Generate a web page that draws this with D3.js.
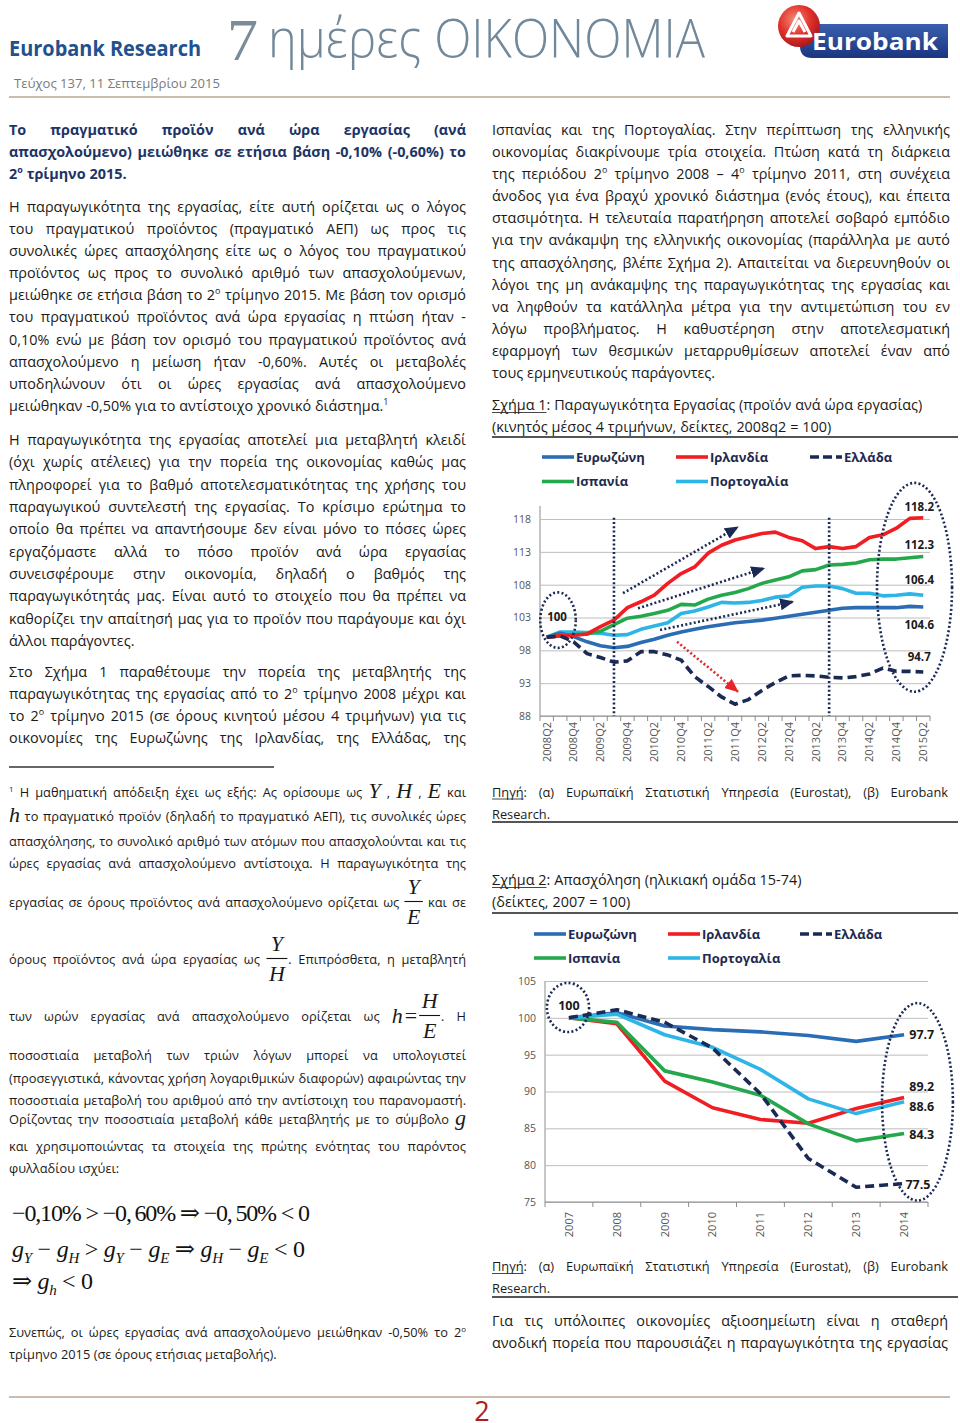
<!DOCTYPE html>
<html>
<head>
<meta charset="utf-8">
<script src="https://cdnjs.cloudflare.com/ajax/libs/d3/7.8.5/d3.min.js"></script>
<style>
body { margin: 0; background: #fff; }
svg { font-family: 'Open Sans', 'Noto Sans', sans-serif; }
</style>
</head>
<body>
<svg id="page" width="960" height="1423"></svg>
<script>
// ---------- data: Σχήμα 1 (productivity, 4q moving avg, 2008q2 = 100) ----------
var quarters = ["2008Q2","2008Q3","2008Q4","2009Q1","2009Q2","2009Q3","2009Q4","2010Q1","2010Q2","2010Q3",
  "2010Q4","2011Q1","2011Q2","2011Q3","2011Q4","2012Q1","2012Q2","2012Q3","2012Q4","2013Q1",
  "2013Q2","2013Q3","2013Q4","2014Q1","2014Q2","2014Q3","2014Q4","2015Q1","2015Q2"];
var prodEurozone = [100,100.6,100.1,99.3,98.7,98.4,98.6,99.2,99.7,100.3,100.8,101.2,101.6,101.9,102.2,102.4,102.6,102.9,103.2,103.5,103.8,104.1,104.4,104.5,104.5,104.5,104.5,104.7,104.6];
var prodIreland  = [100,100.2,100.3,100.5,101.6,102.6,104.5,105.4,106.4,108.2,109.7,110.7,112.8,114.0,114.8,115.3,115.8,116.0,115.2,114.7,113.5,113.8,113.5,113.8,115.2,115.6,116.6,118.1,118.2];
var prodGreece   = [100,100.2,99.3,97.5,96.9,96.2,96.4,97.8,97.8,97.3,96.5,94.0,92.5,90.9,89.8,90.5,91.9,93.1,94.1,94.2,94.1,93.9,93.8,94.0,94.4,95.3,94.8,94.8,94.7];
var prodSpain    = [100,100.3,100.4,100.5,100.9,101.9,102.9,103.2,103.6,104.1,105.0,104.9,105.8,106.4,106.8,107.4,108.2,108.7,109.2,110.1,110.3,111.0,111.1,111.3,111.8,111.9,111.9,112.1,112.3];
var prodPortugal = [100,100.8,100.8,100.7,100.6,100.3,100.4,101.2,101.7,102.2,103.6,104.0,104.6,105.3,105.2,105.3,105.6,106.1,106.3,107.6,107.8,107.8,107.4,106.7,106.7,106.3,106.4,106.6,106.4];
var prodTicks = [88,93,98,103,108,113,118];
var prodEndLabels = ["118.2","112.3","106.4","104.6","94.7"];

// ---------- data: Σχήμα 2 (employment 15-74, 2007 = 100) ----------
var years = ["2007","2008","2009","2010","2011","2012","2013","2014"];
var empEurozone = [100,100.7,98.9,98.4,98.1,97.6,96.8,97.7];
var empIreland  = [100,99.2,91.4,87.8,86.2,85.7,87.7,89.2];
var empGreece   = [100,101.1,99.4,95.9,89.7,80.9,77.0,77.5];
var empSpain    = [100,99.4,92.8,91.3,89.5,85.6,83.3,84.3];
var empPortugal = [100,100.5,97.7,96.0,93.0,89.0,87.0,88.6];
var empTicks = [75,80,85,90,95,100,105];
var empEndLabels = ["97.7","89.2","88.6","84.3","77.5"];

var seriesNames = ["Ευρωζώνη","Ιρλανδία","Ελλάδα","Ισπανία","Πορτογαλία"];
var seriesColors = ["#2a6db5","#f01e23","#1b2a55","#25a74c","#2cb5e6"];

var SERIF = "'Liberation Serif','DejaVu Serif',serif";
var NAVY = "#1b2a55";
var svg = d3.select("#page");

// ---------- text helpers ----------
function mathToken(g, type, s) {
  var ms = 22;
  function it(str, x, y, upright) {
    return g.append("text").attr("x", x).attr("y", y).attr("font-family", SERIF)
      .attr("font-style", upright ? "normal" : "italic").attr("font-size", ms).text(str);
  }
  if (type === "m") return it(s, 0, 1).node().getComputedTextLength();
  var x0 = 0;
  if (type === "e") {
    var p = s.split("=");
    x0 = it(p[0], 0, 2).node().getComputedTextLength() + 2;
    x0 += it("=", x0, 2, true).node().getComputedTextLength() + 2;
    s = p[1];
  }
  var nd = s.split("/");
  var num = it(nd[0], 0, -13), den = it(nd[1], 0, 17);
  var w = Math.max(num.node().getComputedTextLength(), den.node().getComputedTextLength()) + 5;
  num.attr("x", x0 + w / 2).attr("text-anchor", "middle");
  den.attr("x", x0 + w / 2).attr("text-anchor", "middle");
  g.append("line").attr("x1", x0).attr("x2", x0 + w).attr("y1", -5.5).attr("y2", -5.5)
    .attr("stroke", "#111").attr("stroke-width", 1.1);
  return x0 + w;
}

function tokenNode(g, tok, fs, weight) {
  var m = tok.match(/^\{(\w):([^}]*)\}(.*)$/);
  if (m) {
    var w = mathToken(g, m[1], m[2]);
    if (m[3]) {
      var tt = g.append("text").attr("x", w + 1).attr("font-size", fs).text(m[3]);
      w += 1 + tt.node().getComputedTextLength();
    }
    return w;
  }
  var t = g.append("text").attr("font-size", fs).attr("font-weight", weight);
  var re = /_([^_]+)_|\^(.+)$|([^_\^]+)/g, mm, x = 0;
  while ((mm = re.exec(tok)) !== null) {
    var ts = t.append("tspan");
    if (mm[1]) ts.text(mm[1]);
    else if (mm[2]) ts.text(mm[2]).attr("font-size", fs * 0.62).attr("dy", -fs * 0.42);
    else ts.text(mm[3]);
    var len = ts.node().getComputedTextLength();
    if (mm[1]) g.append("line").attr("x1", x).attr("x2", x + len).attr("y1", 2.5).attr("y2", 2.5)
      .attr("stroke", "#333").attr("stroke-width", 0.9);
    x += len;
  }
  return t.node().getComputedTextLength();
}

function drawLine(str, x, y, width, fs, justify, weight, color) {
  var g = svg.append("g").attr("fill", color || "#1a1a1a");
  var items = str.split(" ").map(function(tk) {
    var wg = g.append("g");
    return { g: wg, w: tokenNode(wg, tk, fs, weight || 400) };
  });
  var sum = d3.sum(items, function(d) { return d.w; });
  var gap = fs * 0.27;
  if (justify && items.length > 1) gap = (width - sum) / (items.length - 1);
  if (gap < fs * 0.18) gap = fs * 0.18;
  var total = sum + gap * (items.length - 1), sx = total > width ? width / total : 1;
  var cx = 0;
  items.forEach(function(d) { d.g.attr("transform", "translate(" + cx + ",0)"); cx += d.w + gap; });
  g.attr("transform", "translate(" + x + "," + y + ") scale(" + sx + ",1)");
}

function para(lines, x, y0, lh, width, fs, opt) {
  opt = opt || {};
  lines.forEach(function(l, i) {
    var last = i === lines.length - 1;
    var y = Array.isArray(y0) ? y0[i] : y0 + i * lh;
    var just = opt.noJustify ? false : (!last || opt.justifyLast);
    drawLine(l, x, y, width, fs, just, opt.weight, opt.color);
  });
}

function rule(x1, x2, y, color, w) {
  svg.append("line").attr("x1", x1).attr("x2", x2).attr("y1", y).attr("y2", y)
    .attr("stroke", color).attr("stroke-width", w);
}

// ---------- header ----------
var defs = svg.append("defs");
var rg = defs.append("radialGradient").attr("id", "redball").attr("cx", "40%").attr("cy", "35%").attr("r", "70%");
rg.append("stop").attr("offset", "0%").attr("stop-color", "#f58a7a");
rg.append("stop").attr("offset", "55%").attr("stop-color", "#e0302a");
rg.append("stop").attr("offset", "100%").attr("stop-color", "#a3161a");
var bg = defs.append("linearGradient").attr("id", "bluebar").attr("x1", 0).attr("y1", 0).attr("x2", 0).attr("y2", 1);
bg.append("stop").attr("offset", "0%").attr("stop-color", "#3a5fae");
bg.append("stop").attr("offset", "100%").attr("stop-color", "#1b3580");

svg.append("text").attr("x", 9).attr("y", 56).attr("font-size", 21).attr("font-weight", 700)
  .attr("fill", "#22518f").attr("textLength", 192).attr("lengthAdjust", "spacingAndGlyphs").text("Eurobank Research");
svg.append("text").attr("x", 227).attr("y", 60).attr("font-family", SERIF).attr("font-size", 60)
  .attr("fill", "#7a8c97").attr("textLength", 31).attr("lengthAdjust", "spacingAndGlyphs").text("7");
svg.append("text").attr("x", 268).attr("y", 57).attr("font-size", 54).attr("font-weight", 300)
  .attr("fill", "#71889a").attr("textLength", 437).attr("lengthAdjust", "spacingAndGlyphs").text("ημέρες ΟΙΚΟΝΟΜΙΑ");

svg.append("path").attr("d", "M812,24 H948 V58 H812 Q800,58 800,46 V36 Q800,24 812,24 Z").attr("fill", "url(#bluebar)");
svg.append("circle").attr("cx", 799).attr("cy", 26).attr("r", 21).attr("fill", "url(#redball)");
svg.append("path").attr("d", "M787,36 L799,13 L811,36 Z M793,32 L799,21 L805,32").attr("fill", "none")
  .attr("stroke", "#fff").attr("stroke-width", 3).attr("stroke-linejoin", "round");
svg.append("text").attr("x", 812).attr("y", 50).attr("font-size", 23).attr("font-weight", 700)
  .attr("fill", "#fff").attr("textLength", 126).attr("lengthAdjust", "spacingAndGlyphs").text("Eurobank");

svg.append("text").attr("x", 14).attr("y", 88).attr("font-size", 13).attr("fill", "#7a7a7a")
  .attr("textLength", 206).attr("lengthAdjust", "spacingAndGlyphs").text("Τεύχος 137, 11 Σεπτεμβρίου 2015");
rule(9, 950, 97, "#cbbcae", 2);

// ---------- left column ----------
var LX = 9, LW = 457, FS = 14.4, FN = 12.8;
para(["Το πραγματικό προϊόν ανά ώρα εργασίας (ανά",
      "απασχολούμενο) μειώθηκε σε ετήσια βάση -0,10% (-0,60%) το",
      "2^ο τρίμηνο 2015."], LX, 135, 22, LW, FS, { weight: 700, color: "#1d3466" });

para(["Η παραγωγικότητα της εργασίας, είτε αυτή ορίζεται ως ο λόγος",
      "του πραγματικού προϊόντος (πραγματικό ΑΕΠ) ως προς τις",
      "συνολικές ώρες απασχόλησης είτε ως ο λόγος του πραγματικού",
      "προϊόντος ως προς το συνολικό αριθμό των απασχολούμενων,",
      "μειώθηκε σε ετήσια βάση το 2^ο τρίμηνο 2015. Με βάση τον ορισμό",
      "του πραγματικού προϊόντος ανά ώρα εργασίας η πτώση ήταν -",
      "0,10% ενώ με βάση τον ορισμό του πραγματικού προϊόντος ανά",
      "απασχολούμενο η μείωση ήταν -0,60%. Αυτές οι μεταβολές",
      "υποδηλώνουν ότι οι ώρες εργασίας ανά απασχολούμενο",
      "μειώθηκαν -0,50% για το αντίστοιχο χρονικό διάστημα.^1"], LX, 211.7, 22.14, LW, FS);

para(["Η παραγωγικότητα της εργασίας αποτελεί μια μεταβλητή κλειδί",
      "(όχι χωρίς ατέλειες) για την πορεία της οικονομίας καθώς μας",
      "πληροφορεί για το βαθμό αποτελεσματικότητας της χρήσης του",
      "παραγωγικού συντελεστή της εργασίας. Το κρίσιμο ερώτημα το",
      "οποίο θα πρέπει να απαντήσουμε δεν είναι μόνο το πόσες ώρες",
      "εργαζόμαστε αλλά το πόσο προϊόν ανά ώρα εργασίας",
      "συνεισφέρουμε στην οικονομία, δηλαδή ο βαθμός της",
      "παραγωγικότητάς μας. Είναι αυτό το στοιχείο που θα πρέπει να",
      "καθορίζει την απαίτησή μας για το προϊόν που παράγουμε και όχι",
      "άλλοι παράγοντες."], LX, 445, 22.33, LW, FS);

para(["Στο Σχήμα 1 παραθέτουμε την πορεία της μεταβλητής της",
      "παραγωγικότητας της εργασίας από το 2^ο τρίμηνο 2008 μέχρι και",
      "το 2^ο τρίμηνο 2015 (σε όρους κινητού μέσου 4 τριμήνων) για τις",
      "οικονομίες της Ευρωζώνης της Ιρλανδίας, της Ελλάδας, της"], LX, 676.7, 22.1, LW, FS, { justifyLast: true });

// footnote
rule(9, 274, 767, "#333", 1.5);
para(["^1 Η μαθηματική απόδειξη έχει ως εξής: Ας ορίσουμε ως {m:Y} , {m:H} , {m:E} και",
      "{m:h} το πραγματικό προϊόν (δηλαδή το πραγματικό ΑΕΠ), τις συνολικές ώρες",
      "απασχόλησης, το συνολικό αριθμό των ατόμων που απασχολούνται και τις",
      "ώρες εργασίας ανά απασχολούμενο αντίστοιχα. Η παραγωγικότητα της",
      "εργασίας σε όρους προϊόντος ανά απασχολούμενο ορίζεται ως {f:Y/E} και σε",
      "όρους προϊόντος ανά ώρα εργασίας ως {f:Y/H}. Επιπρόσθετα, η μεταβλητή",
      "των ωρών εργασίας ανά απασχολούμενο ορίζεται ως {e:h=H/E}. Η",
      "ποσοστιαία μεταβολή των τριών λόγων μπορεί να υπολογιστεί",
      "(προσεγγιστικά, κάνοντας χρήση λογαριθμικών διαφορών) αφαιρώντας την",
      "ποσοστιαία μεταβολή του αριθμού από την αντίστοιχη του παρανομαστή.",
      "Ορίζοντας την ποσοστιαία μεταβολή κάθε μεταβλητής με το σύμβολο {m:g}",
      "και χρησιμοποιώντας τα στοιχεία της πρώτης ενότητας του παρόντος",
      "φυλλαδίου ισχύει:"],
     LX, [797, 821, 846, 868, 907, 964, 1021, 1060, 1083, 1105, 1124, 1151, 1173], 0, LW, FN);

// math block
var mathLines = [
  { y: 1221, len: 298, parts: [["−0,10% > −0,\u200960% ⇒ −0,\u200950% < 0"]] },
  { y: 1257, len: 293, parts: [["g","i"],["Y","s"],[" − "],["g","i"],["H","s"],[" > "],["g","i"],["Y","s"],[" − "],
      ["g","i"],["E","s"],[" ⇒ "],["g","i"],["H","s"],[" − "],["g","i"],["E","s"],[" < 0"]] },
  { y: 1289, len: 81, parts: [["⇒ "],["g","i"],["h","s"],[" < 0"]] }
];
mathLines.forEach(function(ml) {
  var t = svg.append("text").attr("x", 12).attr("y", ml.y).attr("font-family", SERIF).attr("font-size", 24)
    .attr("fill", "#111").style("white-space", "pre").attr("textLength", ml.len).attr("lengthAdjust", "spacing");
  var shift = 0;
  ml.parts.forEach(function(p) {
    var ts = t.append("tspan").text(p[0]);
    var target = p[1] === "s" ? 6 : 0;
    if (target !== shift) { ts.attr("dy", target - shift); shift = target; }
    if (p[1]) ts.attr("font-style", "italic");
    if (p[1] === "s") ts.attr("font-size", 15);
  });
});

para(["Συνεπώς, οι ώρες εργασίας ανά απασχολούμενο μειώθηκαν -0,50% το 2^ο",
      "τρίμηνο 2015 (σε όρους ετήσιας μεταβολής)."], LX, 1337, 22, LW, FN);

// ---------- right column ----------
var RX = 492, RW = 458;
para(["Ισπανίας και της Πορτογαλίας. Στην περίπτωση της ελληνικής",
      "οικονομίας διακρίνουμε τρία στοιχεία. Πτώση κατά τη διάρκεια",
      "της περιόδου 2^ο τρίμηνο 2008 – 4^ο τρίμηνο 2011, στη συνέχεια",
      "άνοδος για ένα βραχύ χρονικό διάστημα (ενός έτους), και έπειτα",
      "στασιμότητα. Η τελευταία παρατήρηση αποτελεί σοβαρό εμπόδιο",
      "για την ανάκαμψη της ελληνικής οικονομίας (παράλληλα με αυτό",
      "της απασχόλησης, βλέπε Σχήμα 2). Απαιτείται να διερευνηθούν οι",
      "λόγοι της μη ανάκαμψης της παραγωγικότητας της εργασίας και",
      "να ληφθούν τα κατάλληλα μέτρα για την αντιμετώπιση του εν",
      "λόγω προβλήματος. Η καθυστέρηση στην αποτελεσματική",
      "εφαρμογή των θεσμικών μεταρρυθμίσεων αποτελεί έναν από",
      "τους ερμηνευτικούς παράγοντες."], RX, 135, 22.09, RW, FS);

para(["_Σχήμα\u00a01_: Παραγωγικότητα Εργασίας (προϊόν ανά ώρα εργασίας)",
      "(κινητός μέσος 4 τριμήνων, δείκτες, 2008q2 = 100)"], RX, 410, 22, RW, FS, { noJustify: true });
rule(RX, 958, 437, "#555", 2);

para(["_Πηγή_: (α) Ευρωπαϊκή Στατιστική Υπηρεσία (Eurostat), (β) Eurobank", "Research."], RX, 796.5, 22, 456, FN);
rule(RX, 958, 822, "#555", 2);

para(["_Σχήμα\u00a02_: Απασχόληση (ηλικιακή ομάδα 15-74)", "(δείκτες, 2007 = 100)"], RX, 885, 22, RW, FS, { noJustify: true });
rule(RX, 958, 913, "#555", 2);

para(["_Πηγή_: (α) Ευρωπαϊκή Στατιστική Υπηρεσία (Eurostat), (β) Eurobank", "Research."], RX, 1271, 22, 456, FN);
rule(RX, 958, 1297, "#555", 2);

para(["Για τις υπόλοιπες οικονομίες αξιοσημείωτη είναι η σταθερή",
      "ανοδική πορεία που παρουσιάζει η παραγωγικότητα της εργασίας"], RX, 1326, 22, 456, FS, { justifyLast: true });

// footer
rule(9, 950, 1397, "#cbbcae", 2);
svg.append("text").attr("x", 482).attr("y", 1421).attr("text-anchor", "middle").attr("font-size", 27)
  .attr("fill", "#b01c1c").text("2");

// ---------- charts ----------
function drawChart(cfg) {
  var g = svg.append("g");
  var x = d3.scaleBand().domain(cfg.cats).range(cfg.xRange).padding(0);
  var y = d3.scaleLinear().domain(cfg.yDomain).range(cfg.yRange);
  var xc = function(i) { return x(cfg.cats[0]) + x.bandwidth() / 2 + i * x.step(); };
  var x0 = cfg.xRange[0], x1 = cfg.xRange[1];

  // gridlines + y labels
  var ya = g.append("g").attr("transform", "translate(" + x0 + ",0)")
    .call(d3.axisLeft(y).tickValues(cfg.yTicks).tickSize(-(x1 - x0)).tickPadding(9));
  ya.attr("font-family", null);
  ya.selectAll(".tick line").attr("stroke", "#bdbdbd");
  ya.select(".domain").attr("stroke", "#8c8c8c").attr("d", "M0," + cfg.yRange[0] + "V" + cfg.yRange[1]);
  ya.selectAll("text").attr("font-size", 10.5).attr("fill", "#555");

  // x axis with rotated labels
  var xa = g.append("g").attr("transform", "translate(0," + cfg.yRange[0] + ")")
    .call(d3.axisBottom(x).tickValues(cfg.cats.filter(function(c, i) { return i % cfg.every === 0; })).tickSize(0));
  xa.attr("font-family", null);
  xa.select(".domain").attr("stroke", "#8c8c8c").attr("d", "M" + x0 + ",0H" + x1);
  xa.selectAll("text").attr("font-size", 11).attr("fill", "#555")
    .attr("transform", "rotate(-90)").attr("x", -cfg.labelGap).attr("y", 0).attr("dy", "0.35em")
    .style("text-anchor", "end");
  var bounds = cfg.cats.map(function(c) { return x(c); }).concat([x1]);
  g.selectAll(".btick").data(bounds).enter().append("line")
    .attr("x1", function(d) { return d; }).attr("x2", function(d) { return d; })
    .attr("y1", cfg.yRange[0]).attr("y2", cfg.yRange[0] + 5).attr("stroke", "#8c8c8c");

  // series
  var line = d3.line().x(function(d, i) { return xc(i); }).y(function(d) { return y(d); });
  cfg.drawOrder.forEach(function(k) {
    g.append("path").datum(cfg.series[k]).attr("d", line).attr("fill", "none")
      .attr("stroke", seriesColors[k]).attr("stroke-width", 3.6)
      .attr("stroke-dasharray", k === 2 ? "9,5" : null).attr("stroke-linejoin", "round");
  });

  // dotted annotations
  var dot = function(s) { return s.attr("fill", "none").attr("stroke", NAVY).attr("stroke-width", 2.6).attr("stroke-dasharray", "2,2.3"); };
  (cfg.vlines || []).forEach(function(v) {
    dot(g.append("line").attr("x1", xc(v.i)).attr("x2", xc(v.i)).attr("y1", y(v.top)).attr("y2", cfg.yRange[0]));
  });
  cfg.ellipses.forEach(function(e) {
    dot(g.append("ellipse").attr("cx", xc(e.i)).attr("cy", y(e.v))
      .attr("rx", e.ri * x.step()).attr("ry", Math.abs(y(e.v + e.rv) - y(e.v))));
  });
  (cfg.arrows || []).forEach(function(a, k) {
    var id = "ah" + cfg.id + k;
    defs.append("marker").attr("id", id).attr("markerUnits", "userSpaceOnUse").attr("viewBox", "0 -6 14 12")
      .attr("refX", 13).attr("refY", 0).attr("markerWidth", 14).attr("markerHeight", 12).attr("orient", "auto")
      .append("path").attr("d", "M0,-6L14,0L0,6Z").attr("fill", a.color);
    dot(g.append("line").attr("x1", xc(a.from[0])).attr("y1", y(a.from[1]))
      .attr("x2", xc(a.to[0])).attr("y2", y(a.to[1]))).attr("stroke", a.color).attr("marker-end", "url(#" + id + ")");
  });

  // value labels
  g.selectAll(".vl").data(cfg.labels).enter().append("text")
    .attr("x", function(d) { return xc(d.i); }).attr("y", function(d) { return y(d.v); })
    .attr("dy", "0.35em").attr("text-anchor", "middle").attr("font-weight", 700)
    .attr("font-size", cfg.labelSize).attr("fill", "#1a1a1a").text(function(d) { return d.text; });

  // legend
  var lg = g.append("g");
  var legPos = [[0, 0], [1, 0], [2, 0], [0, 1], [1, 1]];
  seriesNames.forEach(function(n, k) {
    var lx = cfg.legX[legPos[k][0]], ly = cfg.legY[legPos[k][1]];
    lg.append("line").attr("x1", lx).attr("x2", lx + 32).attr("y1", ly).attr("y2", ly)
      .attr("stroke", seriesColors[k]).attr("stroke-width", 3.6).attr("stroke-dasharray", k === 2 ? "9,4" : null);
    lg.append("text").attr("x", lx + 34).attr("y", ly).attr("dy", "0.36em").attr("font-size", 13)
      .attr("font-weight", 700).attr("fill", "#1e2a4f").text(n);
  });
}

drawChart({
  id: 1, cats: quarters, every: 2, xRange: [540, 930], yDomain: [88, 120], yRange: [716, 505.9],
  yTicks: prodTicks, labelGap: 6, labelSize: 11.5,
  series: [prodEurozone, prodIreland, prodGreece, prodSpain, prodPortugal],
  drawOrder: [4, 0, 3, 1, 2],
  vlines: [{ i: 5, top: 118.2 }, { i: 21, top: 118.2 }],
  ellipses: [{ i: 0.84, v: 102.6, ri: 1.32, rv: 4.23 }, { i: 27.35, v: 107.6, ri: 2.79, rv: 15.9 }],
  arrows: [
    { from: [5.67, 106.7], to: [14.22, 116.8], color: NAVY },
    { from: [6.79, 104.4], to: [16.17, 110.5], color: NAVY },
    { from: [8.43, 101.1], to: [18.32, 105.4], color: NAVY },
    { from: [9.69, 99.3], to: [14.22, 91.7], color: "#e8262a" }
  ],
  labels: [{ text: "100", i: 0.77, v: 103.1 }].concat(prodEndLabels.map(function(t, k) {
    return { text: t, i: 27.7, v: [119.8, 114.0, 108.7, 101.9, 97.0][k] };
  })),
  legX: [542, 676, 810], legY: [457, 481.5]
});

drawChart({
  id: 2, cats: years, every: 1, xRange: [545, 928], yDomain: [75, 105], yRange: [1202, 981],
  yTicks: empTicks, labelGap: 10, labelSize: 12.5,
  series: [empEurozone, empIreland, empGreece, empSpain, empPortugal],
  drawOrder: [0, 1, 3, 4, 2],
  ellipses: [{ i: -0.02, v: 101.4, ri: 0.44, rv: 3.33 }, { i: 7.28, v: 88.6, ri: 0.74, rv: 13.4 }],
  labels: [{ text: "100", i: 0, v: 101.7 }].concat(empEndLabels.map(function(t, k) {
    return { text: t, i: [7.37, 7.37, 7.37, 7.37, 7.29][k], v: [97.7, 90.6, 87.9, 84.2, 77.4][k] };
  })),
  legX: [534, 668, 800], legY: [934, 958]
});
</script>
</body>
</html>
